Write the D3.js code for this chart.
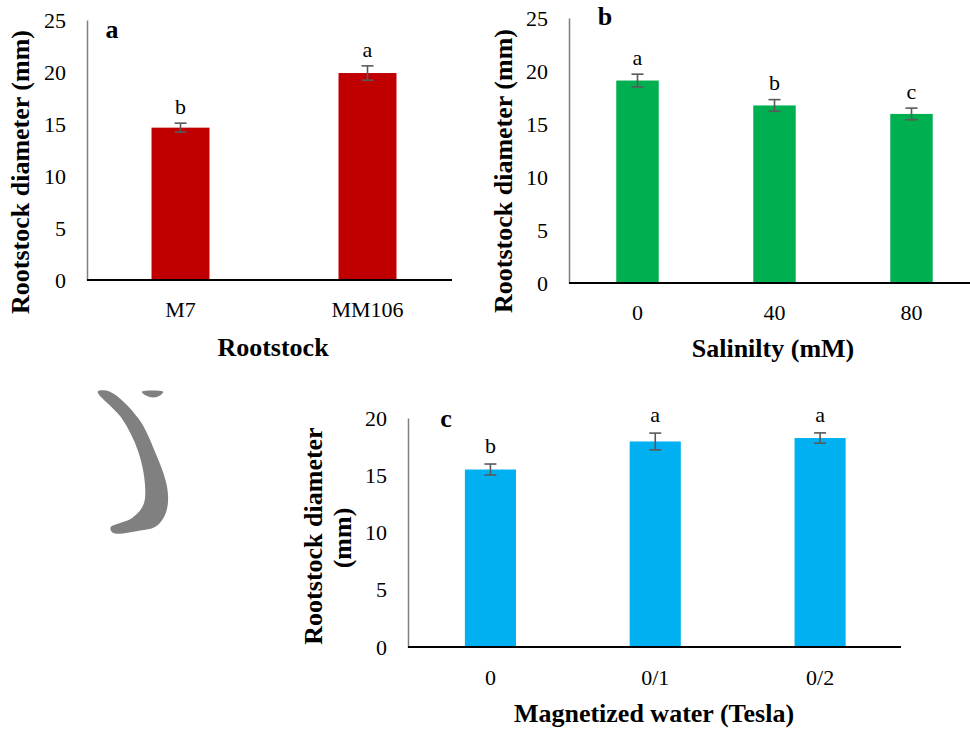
<!DOCTYPE html>
<html>
<head>
<meta charset="utf-8">
<script src="https://cdn.jsdelivr.net/npm/d3@7"></script>
<style>
  body { margin: 0; background: #fff; }
  svg { display: block; font-family: 'Liberation Serif', 'Times New Roman', serif; }
</style>
</head>
<body>
<svg id="chart" width="970" height="730"></svg>
<script>
// panel a - rootstock
const rootstocks = ['M7', 'MM106'];
const rootstockMeans = [14.65, 19.9];
const rootstockErr = [0.43, 0.69];
const rootstockLetters = ['b', 'a'];

// panel b - salinity
const salinityLevels = ['0', '40', '80'];
const salinityMeans = [19.1, 16.75, 15.95];
const salinityErr = [0.6, 0.55, 0.55];
const salinityLetters = ['a', 'b', 'c'];

// panel c - magnetized water
const teslaLevels = ['0', '0/1', '0/2'];
const teslaMeans = [15.5, 17.95, 18.25];
const teslaErr = [0.48, 0.73, 0.45];
const teslaLetters = ['b', 'a', 'a'];

const yTicks25 = [0, 5, 10, 15, 20, 25];
const yTicks20 = [0, 5, 10, 15, 20];

const svg = d3.select('#chart');

// grey fragment on the left side of the figure
const blobOuter = [
  [97.7, 391.7], [110, 391.7], [138.3, 418.3], [155, 451.7], [166.7, 485], [167.7, 505],
  [163.3, 518.3], [155, 527], [140, 530.5], [113.3, 533], [110.5, 527.5],
  [131.7, 518.3], [143.3, 505], [145, 485], [138.3, 451.7], [121.7, 418.3],
];
const blobSmall = [[141.7, 391.7], [163.3, 391.7], [160, 395.5], [153.3, 397.5], [146, 395.5]];
const blobLine = d3.line().curve(d3.curveCatmullRomClosed.alpha(0.5));
svg.append('path').attr('d', blobLine(blobOuter)).attr('fill', '#808080');
svg.append('path').attr('d', blobLine(blobSmall)).attr('fill', '#808080');

function drawPanel(cfg) {
  const g = svg.append('g');
  const data = cfg.cats.map((c, i) => ({
    cat: c, mean: cfg.means[i], err: cfg.err[i], letter: cfg.letters[i],
  }));

  const x = d3.scaleBand()
    .domain(cfg.cats)
    .range([cfg.left, cfg.right])
    .paddingInner(0.69)
    .paddingOuter(0.345);
  const y = d3.scaleLinear().domain([0, cfg.yMax]).range([cfg.bottom, cfg.top]);

  // bars
  g.selectAll('.bar')
    .data(data)
    .join('rect')
    .attr('class', 'bar')
    .attr('x', (d) => x(d.cat))
    .attr('y', (d) => y(d.mean))
    .attr('width', x.bandwidth())
    .attr('height', (d) => y(0) - y(d.mean))
    .attr('fill', cfg.color);

  // error bars
  const eb = g.selectAll('.err').data(data).join('g').attr('class', 'err')
    .attr('stroke', '#595959').attr('stroke-width', 1.6);
  const cx = (d) => x(d.cat) + x.bandwidth() / 2;
  eb.append('line')
    .attr('x1', cx).attr('x2', cx)
    .attr('y1', (d) => y(d.mean + d.err)).attr('y2', (d) => y(d.mean - d.err));
  [1, -1].forEach((s) => {
    eb.append('line')
      .attr('x1', (d) => cx(d) - 6).attr('x2', (d) => cx(d) + 6)
      .attr('y1', (d) => y(d.mean + s * d.err)).attr('y2', (d) => y(d.mean + s * d.err));
  });

  // significance letters
  g.selectAll('.sig').data(data).join('text')
    .attr('class', 'sig')
    .attr('x', cx)
    .attr('y', (d) => y(d.mean + d.err) - cfg.letterGap)
    .attr('dy', '0.35em')
    .attr('text-anchor', 'middle')
    .attr('font-size', 22)
    .text((d) => d.letter);

  // y axis
  const yAxis = d3.axisLeft(y).tickValues(cfg.yTicks).tickSize(0).tickPadding(21);
  const yg = g.append('g').attr('transform', `translate(${cfg.left},0)`).call(yAxis);
  yg.select('.domain').attr('stroke', '#7f7f7f').attr('stroke-width', 1.5);
  yg.selectAll('.tick text')
    .attr('font-family', 'Liberation Serif, serif')
    .attr('font-size', 22)
    .attr('fill', '#000');

  // x axis
  const xAxis = d3.axisBottom(x).tickSize(0).tickPadding(0);
  const xg = g.append('g').attr('transform', `translate(0,${cfg.bottom})`).call(xAxis);
  xg.select('.domain').remove();
  xg.selectAll('.tick text')
    .attr('font-family', 'Liberation Serif, serif')
    .attr('font-size', 22)
    .attr('fill', '#000')
    .attr('y', cfg.xTickY - cfg.bottom)
    .attr('dy', '0.35em');
  g.append('line')
    .attr('x1', cfg.left).attr('x2', cfg.axisEnd)
    .attr('y1', cfg.bottom).attr('y2', cfg.bottom)
    .attr('stroke', '#000').attr('stroke-width', 2);

  // titles
  g.append('text')
    .attr('x', cfg.xTitle[0]).attr('y', cfg.xTitle[1])
    .attr('dy', '0.35em')
    .attr('text-anchor', 'middle')
    .attr('font-size', 26).attr('font-weight', 'bold')
    .text(cfg.xLabel);

  cfg.yLabel.forEach((line, i) => {
    const [tx, ty] = cfg.yTitle[i];
    g.append('text')
      .attr('transform', `translate(${tx},${ty}) rotate(-90)`)
      .attr('dy', '0.35em')
      .attr('text-anchor', 'middle')
      .attr('font-size', 26).attr('font-weight', 'bold')
      .text(line);
  });

  g.append('text')
    .attr('x', cfg.tag[0]).attr('y', cfg.tag[1])
    .attr('dy', '0.35em')
    .attr('text-anchor', 'middle')
    .attr('font-size', 26).attr('font-weight', 'bold')
    .text(cfg.tagText);
}

drawPanel({
  cats: rootstocks, means: rootstockMeans, err: rootstockErr, letters: rootstockLetters,
  color: '#c00000', yMax: 25, yTicks: yTicks25,
  left: 87, right: 461, axisEnd: 452, top: 20, bottom: 280,
  xTickY: 309, xTitle: [273, 347], xLabel: 'Rootstock',
  yTitle: [[20, 172]], yLabel: ['Rootstock diameter (mm)'],
  tag: [112, 29], tagText: 'a', letterGap: 17,
});

drawPanel({
  cats: salinityLevels, means: salinityMeans, err: salinityErr, letters: salinityLetters,
  color: '#00b050', yMax: 25, yTicks: yTicks25,
  left: 569, right: 980, axisEnd: 970, top: 18, bottom: 283,
  xTickY: 312, xTitle: [773, 348], xLabel: 'Salinilty (mM)',
  yTitle: [[503, 171]], yLabel: ['Rootstock diameter (mm)'],
  tag: [605, 16], tagText: 'b', letterGap: 17,
});

drawPanel({
  cats: teslaLevels, means: teslaMeans, err: teslaErr, letters: teslaLetters,
  color: '#00b0f0', yMax: 20, yTicks: yTicks20,
  left: 408, right: 902.5, axisEnd: 901, top: 418, bottom: 647,
  xTickY: 677, xTitle: [654, 713], xLabel: 'Magnetized water (Tesla)',
  yTitle: [[313, 536], [342, 538]], yLabel: ['Rootstock diameter', '(mm)'],
  tag: [446, 418], tagText: 'c', letterGap: 19,
});
</script>
</body>
</html>
